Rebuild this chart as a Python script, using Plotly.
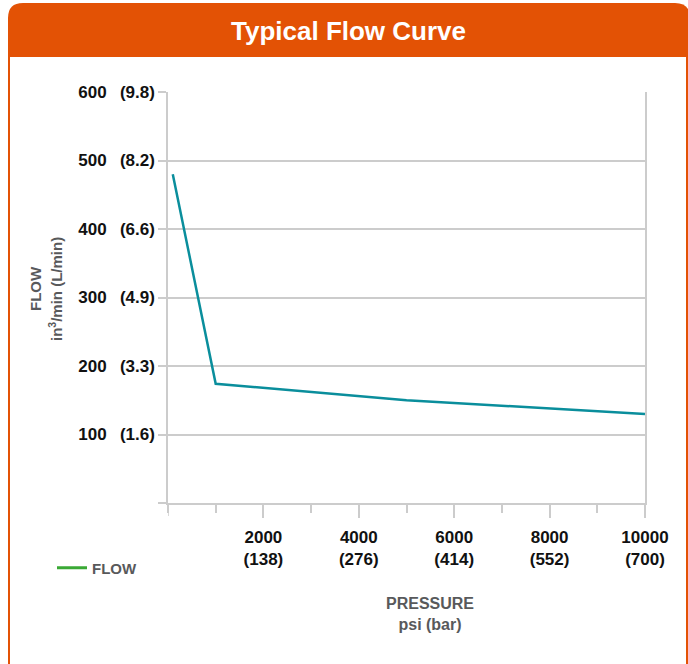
import plotly.graph_objects as go

# ---- data ----
pressure_psi = [100, 1000, 5000, 10000]
flow_in3 = [480, 174, 150, 130]

y_tick_vals = [100, 200, 300, 400, 500, 600]
y_tick_text = ["100\u2002\u00a0(1.6)", "200\u2002\u00a0(3.3)", "300\u2002\u00a0(4.9)",
               "400\u2002\u00a0(6.6)", "500\u2002\u00a0(8.2)", "600\u2002\u00a0(9.8)"]
x_tick_vals = [2000, 4000, 6000, 8000, 10000]
x_tick_text = ["2000<br>(138)", "4000<br>(276)", "6000<br>(414)", "8000<br>(552)", "10000<br>(700)"]

title_text = "Typical Flow Curve"
series_name = "FLOW"

# ---- style ----
W, H = 688, 664
L, R, T, B = 168, 645, 92, 503   # plot area pixel box
FONT = "Liberation Sans, Arial, Helvetica, sans-serif"
ORANGE = "#e35205"
TEAL = "#0a8e9c"
GREEN = "#3aa935"
GRID = "#cccccc"
GRAY = "#58595b"


def px(xp):
    return (xp - L) / (R - L)


def py(yp):
    return (B - yp) / (B - T)


fig = go.Figure()
fig.add_trace(go.Scatter(x=pressure_psi, y=flow_in3, mode="lines",
                         line=dict(color=TEAL, width=2.5), showlegend=False,
                         hoverinfo="x+y"))
fig.add_trace(go.Scatter(x=[None], y=[None], mode="lines", name=series_name,
                         line=dict(color=GREEN, width=3), showlegend=True))

# title bar with rounded top corners
bx0, bx1, by0, by1, r = 8, 690, 3, 57, 15
path = (f"M {px(bx0)},{py(by1)} L {px(bx0)},{py(by0 + r)} "
        f"Q {px(bx0)},{py(by0)} {px(bx0 + r)},{py(by0)} "
        f"L {px(bx1 - r)},{py(by0)} Q {px(bx1)},{py(by0)} {px(bx1)},{py(by0 + r)} "
        f"L {px(bx1)},{py(by1)} Z")
shapes = [
    dict(type="rect", xref="paper", yref="paper", x0=px(9), x1=px(687), y0=py(700), y1=py(30),
         line=dict(color=ORANGE, width=2), fillcolor="rgba(0,0,0,0)", layer="below"),
    dict(type="path", xref="paper", yref="paper", path=path, fillcolor=ORANGE,
         line=dict(width=0), layer="below"),
    # y-axis line continuing below the x axis
    dict(type="line", xref="x", yref="paper", x0=0, x1=0, y0=0, y1=py(516),
         line=dict(color=GRID, width=1.5)),
]

annotations = [
    dict(text=title_text, xref="paper", yref="paper", x=px(348), y=py(31), showarrow=False,
         xanchor="center", yanchor="middle",
         font=dict(family=FONT, size=26, color="white", weight="bold")),
    dict(text="FLOW", xref="paper", yref="paper", x=px(35), y=py(289), showarrow=False,
         textangle=-90, xanchor="center", yanchor="middle",
         font=dict(family=FONT, size=15, color=GRAY, weight="bold")),
    dict(text="in<sup>3</sup>/min (L/min)", xref="paper", yref="paper", x=px(55), y=py(289),
         showarrow=False, textangle=-90, xanchor="center", yanchor="middle",
         font=dict(family=FONT, size=15, color=GRAY, weight="bold")),
    dict(text="PRESSURE<br>psi (bar)", xref="paper", yref="paper", x=px(430), y=py(614),
         showarrow=False, xanchor="center", yanchor="middle",
         font=dict(family=FONT, size=16, color=GRAY, weight="bold")),
]

fig.update_layout(
    width=W, height=H, autosize=False,
    margin=dict(l=L, r=W - R, t=T, b=H - B, pad=0),
    paper_bgcolor="white", plot_bgcolor="white",
    shapes=shapes, annotations=annotations,
    showlegend=True,
    legend=dict(xref="container", yref="container", x=52 / W, y=1 - 568 / H,
                xanchor="left", yanchor="middle", bgcolor="rgba(0,0,0,0)",
                font=dict(family=FONT, size=15, color=GRAY, weight="bold")),
    xaxis=dict(range=[0, 10000], tickmode="array", tickvals=x_tick_vals, ticktext=x_tick_text,
               automargin=False, ticklabelstandoff=5,
               showgrid=False, zeroline=False, showline=True, linecolor=GRID, linewidth=1.5,
               ticks="outside", ticklen=13, tickwidth=1.5, tickcolor=GRID,
               minor=dict(dtick=1000, tick0=0, ticks="outside", ticklen=8, tickwidth=1.5,
                          tickcolor=GRID, showgrid=False),
               tickfont=dict(family=FONT, size=17, color="#111111", weight="bold"),
               fixedrange=True),
    yaxis=dict(range=[0, 600], tickmode="array", tickvals=y_tick_vals, ticktext=y_tick_text,
               automargin=False,
               showgrid=True, gridcolor=GRID, gridwidth=1.5, zeroline=False,
               showline=True, mirror=True, linecolor=GRID, linewidth=1.5,
               ticks="outside", ticklen=8, tickwidth=1.5, tickcolor=GRID,
               minor=dict(dtick=100, tick0=0, ticks="outside", ticklen=8, tickwidth=1.5,
                          tickcolor=GRID, showgrid=False),
               tickfont=dict(family=FONT, size=17, color="#111111", weight="bold"),
               fixedrange=True),
)

fig.write_html("out.html", config={"displayModeBar": False},
               post_script="document.body.style.margin='0';")
